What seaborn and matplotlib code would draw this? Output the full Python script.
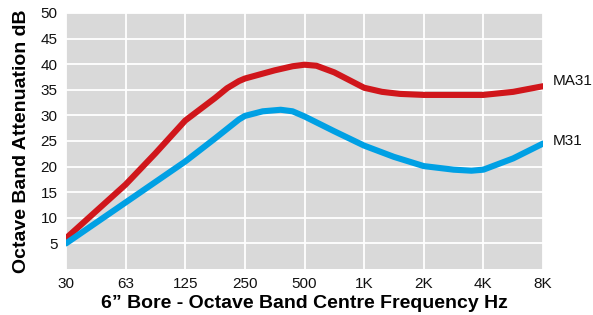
import numpy as np
import pandas as pd
import seaborn as sns
import matplotlib.pyplot as plt

# octave band centre frequencies (category positions 0..8)
freq_labels = ['30', '63', '125', '250', '500', '1K', '2K', '4K', '8K']

# attenuation readings along each curve (position on the frequency axis, dB)
ma31_pos = [0, 1, 1.5, 2, 2.5, 2.7, 2.9, 3, 3.5, 3.8, 4, 4.2, 4.5, 5, 5.3, 5.6, 6, 7, 7.5, 8]
ma31_db = [6, 16.5, 22.6, 29, 33.4, 35.3, 36.7, 37.2, 38.8, 39.6, 39.9, 39.7, 38.4, 35.4, 34.6, 34.2, 34, 34, 34.6, 35.7]

m31_pos = [0, 1, 2, 2.5, 2.9, 3, 3.3, 3.6, 3.8, 4, 4.5, 5, 5.5, 6, 6.5, 6.8, 7, 7.5, 8]
m31_db = [5, 13, 21, 25.5, 29.2, 29.9, 30.8, 31.1, 30.8, 29.8, 26.9, 24.1, 21.9, 20.1, 19.4, 19.2, 19.4, 21.6, 24.5]

series_names = ['MA31', 'M31']
series_colors = ['#d0161b', '#00a0e4']

df = pd.concat([
    pd.DataFrame({'pos': ma31_pos, 'dB': ma31_db, 'series': 'MA31'}),
    pd.DataFrame({'pos': m31_pos, 'dB': m31_db, 'series': 'M31'}),
])

sns.set_style('darkgrid', {'axes.facecolor': '#d9d9d9', 'grid.color': 'white'})
plt.rcParams['font.family'] = ['Liberation Sans Narrow', 'Liberation Sans', 'DejaVu Sans']

fig = plt.figure(figsize=(5.93, 3.15), dpi=100)
ax = fig.add_axes([66 / 593, 1 - 269 / 315, (543 - 66) / 593, (269 - 13) / 315])

sns.lineplot(data=df, x='pos', y='dB', hue='series', hue_order=series_names,
             palette=series_colors, linewidth=4.4, sort=False, legend=False, ax=ax,
             solid_joinstyle='round', solid_capstyle='round')

ax.set_xlim(0, 8)
ax.set_ylim(0, 50)
ax.set_xticks(range(len(freq_labels)))
ax.set_xticklabels(freq_labels)
ax.set_yticks(range(5, 55, 5))
ax.grid(True, color='white', linewidth=1.3)
ax.tick_params(length=0, labelsize=11, colors='#111111', pad=6)
for s in ax.spines.values():
    s.set_visible(False)

ax.set_xlabel('6\u201d Bore - Octave Band Centre Frequency Hz', fontsize=14,
              fontweight='bold', color='black',
              family=['Liberation Sans', 'DejaVu Sans'], labelpad=3)
ax.set_ylabel('Octave Band Attenuation dB', fontsize=14, fontweight='bold',
              color='black', family=['Liberation Sans', 'DejaVu Sans'], labelpad=8)

label_y = [36.8, 25]
for name, y in zip(series_names, label_y):
    ax.annotate(name, xy=(8, y), xytext=(7, 0), textcoords='offset points',
                va='center', ha='left', fontsize=11, color='#111111',
                annotation_clip=False)

fig.savefig('out.png', dpi=100)
